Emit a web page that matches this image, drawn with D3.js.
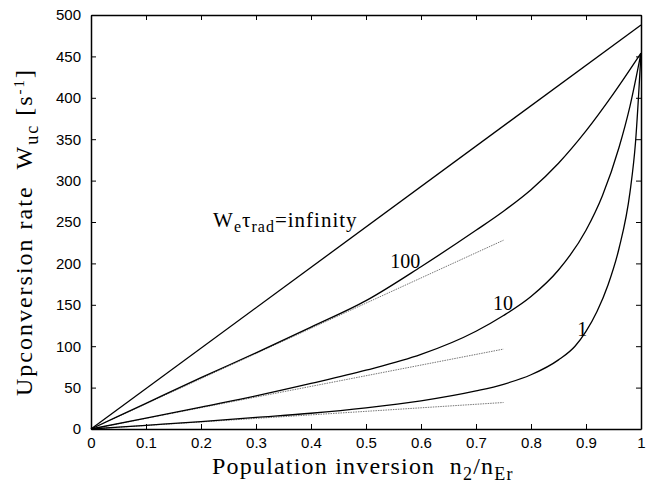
<!DOCTYPE html>
<html>
<head>
<meta charset="utf-8">
<script src="https://cdn.jsdelivr.net/npm/d3@7"></script>
<style>
  body { margin: 0; background: #fff; }
  .tick text { font-family: "Liberation Sans", Arial, sans-serif; font-size: 15px; fill: #000; }
  .domain, .tick line { stroke: #000; }
</style>
</head>
<body>
<script>
// values
var xTicks = [0, 0.1, 0.2, 0.3, 0.4, 0.5, 0.6, 0.7, 0.8, 0.9, 1];
var yTicks = [0, 50, 100, 150, 200, 250, 300, 350, 400, 450, 500];

var infinityX = [0, 1];
var infinityY = [0, 488];

var c100X = [0, 0.1, 0.2, 0.3, 0.4, 0.5, 0.6, 0.7, 0.75, 0.8, 0.85, 0.9, 0.95, 1];
var c100Y = [0, 31, 62, 92, 123, 155, 196, 240, 263, 289, 321, 360, 405, 454];

var c10X = [0, 0.1, 0.2, 0.3, 0.4, 0.5, 0.6, 0.7, 0.75, 0.8, 0.85, 0.9, 0.93, 0.96, 0.98, 1];
var c10Y = [0, 13, 26.5, 40, 55, 71, 90, 118, 137, 160, 192, 240, 282, 340, 390, 454];

var c1X = [0, 0.1, 0.2, 0.3, 0.4, 0.5, 0.6, 0.7, 0.75, 0.8, 0.85, 0.88, 0.9, 0.92, 0.94, 0.96, 0.98, 0.99, 1];
var c1Y = [0, 4.5, 9, 14, 19, 25.5, 34, 46, 54, 65.5, 83.5, 100, 118, 142, 174, 218, 286, 346, 454];

// initial-slope lines (dotted)
var tanX = [0, 0.75];
var tan100Y = [0, 228];
var tan10Y = [0, 96.5];
var tan1Y = [0, 32];

var W = 650, H = 483;
var margin = {left: 91, top: 15, right: 9, bottom: 54};
var width = W - margin.left - margin.right,
    height = H - margin.top - margin.bottom;

var svg = d3.select("body").append("svg")
    .attr("width", W)
    .attr("height", H);

var g = svg.append("g")
    .attr("transform", "translate(" + margin.left + "," + margin.top + ")");

var x = d3.scaleLinear().domain([0, 1]).range([0, width]);
var y = d3.scaleLinear().domain([0, 500]).range([height, 0]);

function pts(xs, ys) {
  return xs.map(function(d, i) { return [d, ys[i]]; });
}

var line = d3.line()
    .x(function(d) { return x(d[0]); })
    .y(function(d) { return y(d[1]); })
    .curve(d3.curveMonotoneX);

// dotted tangents
[tan100Y, tan10Y, tan1Y].forEach(function(ys) {
  g.append("path")
    .attr("d", line(pts(tanX, ys)))
    .attr("fill", "none")
    .attr("stroke", "#666")
    .attr("stroke-width", 0.9)
    .attr("stroke-dasharray", "1.5,1");
});

// solid curves
[[infinityX, infinityY], [c100X, c100Y], [c10X, c10Y], [c1X, c1Y]].forEach(function(s) {
  g.append("path")
    .attr("d", line(pts(s[0], s[1])))
    .attr("fill", "none")
    .attr("stroke", "#000")
    .attr("stroke-width", 1.3);
});

// axes, ticks pointing inward on all four sides
var fmt = function(d) { return d3.format("")(d); };
g.append("g")
  .attr("transform", "translate(0," + height + ")")
  .call(d3.axisBottom(x).tickValues(xTicks).tickFormat(fmt).tickSizeInner(-5).tickSizeOuter(0).tickPadding(8));
g.append("g")
  .call(d3.axisTop(x).tickValues(xTicks).tickFormat("").tickSizeInner(-5).tickSizeOuter(0));
g.append("g")
  .call(d3.axisLeft(y).tickValues(yTicks).tickSizeInner(-5).tickSizeOuter(0).tickPadding(10));
g.append("g")
  .attr("transform", "translate(" + width + ",0)")
  .call(d3.axisRight(y).tickValues(yTicks).tickFormat("").tickSizeInner(-5).tickSizeOuter(0));
g.selectAll(".domain").attr("stroke-width", 1.5);

// curve labels
var serif = "'Liberation Serif', 'Times New Roman', serif";
var labels = [
  {x: 0.544, y: 194, t: "100"},
  {x: 0.731, y: 144, t: "10"},
  {x: 0.884, y: 112, t: "1"}
];
g.selectAll(".clabel").data(labels).enter().append("text")
  .attr("class", "clabel")
  .attr("x", function(d) { return x(d.x); })
  .attr("y", function(d) { return y(d.y); })
  .attr("font-family", serif)
  .attr("font-size", "20px")
  .text(function(d) { return d.t; });

var inf = g.append("text")
  .attr("x", x(0.222))
  .attr("y", y(244))
  .attr("font-family", serif)
  .attr("font-size", "21px")
  .attr("letter-spacing", "1px");
inf.append("tspan").text("W");
inf.append("tspan").attr("dy", 5).attr("font-size", "16px").text("e");
inf.append("tspan").attr("dy", -5).text("\u03c4");
inf.append("tspan").attr("dy", 5).attr("font-size", "16px").text("rad");
inf.append("tspan").attr("dy", -5).text("=infinity");

// axis titles
var xt = svg.append("text")
  .attr("x", 212)
  .attr("y", 474)
  .attr("font-family", serif)
  .attr("font-size", "24px")
  .attr("letter-spacing", "1.2px");
xt.append("tspan").text("Population inversion\u00a0\u00a0n");
xt.append("tspan").attr("dy", 6).attr("font-size", "18px").text("2");
xt.append("tspan").attr("dy", -6).text("/n");
xt.append("tspan").attr("dy", 6).attr("font-size", "18px").text("Er");

var yt = svg.append("text")
  .attr("transform", "translate(32,232) rotate(-90)")
  .attr("text-anchor", "middle")
  .attr("font-family", serif)
  .attr("font-size", "24px")
  .attr("letter-spacing", "2px");
yt.append("tspan").text("Upconversion rate\u00a0\u00a0W");
yt.append("tspan").attr("dy", 6).attr("font-size", "18px").text("uc");
yt.append("tspan").attr("dy", -6).text(" [s");
yt.append("tspan").attr("dy", -8).attr("font-size", "15px").text("-1");
yt.append("tspan").attr("dy", 8).text("]");
</script>
</body>
</html>
